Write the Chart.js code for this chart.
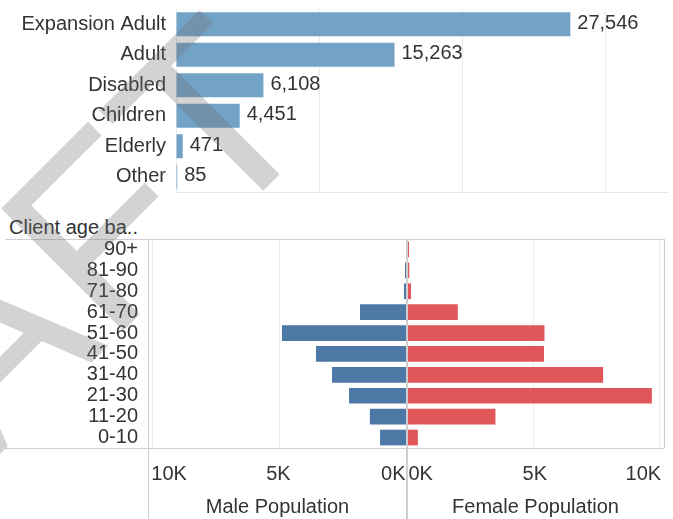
<!DOCTYPE html>
<html>
<head>
<meta charset="utf-8">
<script src="https://cdn.jsdelivr.net/npm/chart.js@4.4.1/dist/chart.umd.min.js"></script>
<style>
html,body{margin:0;padding:0;background:#fff;}
#wrap{position:relative;width:673px;height:519px;overflow:hidden;font-family:"Liberation Sans",Arial,sans-serif;}
canvas{position:absolute;}
#hdr{position:absolute;left:9px;top:215px;font-size:20px;line-height:24px;color:#333;white-space:nowrap;}
</style>
</head>
<body>
<div id="wrap">
  <canvas id="topChart" width="673" height="200" style="left:0;top:0;width:673px;height:200px"></canvas>
  <div id="hdr">Client age ba..</div>
  <canvas id="femaleChart" width="266" height="319" style="left:407px;top:200px;width:266px;height:319px"></canvas>
  <canvas id="maleChart" width="408" height="319" style="left:0;top:200px;width:408px;height:319px"></canvas>
  <canvas id="wm" width="673" height="519" style="left:0;top:0;width:673px;height:519px;pointer-events:none"></canvas>
</div>
<script>
// ---- data ----
const programs = ['Expansion Adult', 'Adult', 'Disabled', 'Children', 'Elderly', 'Other'];
const enrollment = [27546, 15263, 6108, 4451, 471, 85];
const topTicks = [0, 10000, 20000, 30000];

const ageBands = ['90+', '81-90', '71-80', '61-70', '51-60', '41-50', '31-40', '21-30', '11-20', '0-10'];
const malePop = [25, 80, 120, 1850, 4920, 3580, 2950, 2280, 1460, 1060];
const femalePop = [80, 90, 160, 2010, 5440, 5420, 7760, 9690, 3500, 430];
const popTicks = [0, 5000, 10000];

// ---- styling ----
const FONT = '"Liberation Sans", Arial, sans-serif';
const TXT = '#333333';
Chart.defaults.font.family = FONT;
Chart.defaults.font.size = 20;
Chart.defaults.color = TXT;

function noPad(s) { s.paddingTop = 0; s.paddingBottom = 0; s.paddingLeft = 0; s.paddingRight = 0; }

const valueLabels = {
  id: 'valueLabels',
  afterDatasetsDraw(chart) {
    const ctx = chart.ctx;
    const meta = chart.getDatasetMeta(0);
    ctx.save();
    ctx.font = '20px ' + FONT;
    ctx.fillStyle = TXT;
    ctx.textBaseline = 'middle';
    ctx.textAlign = 'left';
    meta.data.forEach((bar, i) => {
      ctx.fillText(enrollment[i].toLocaleString('en-US'), bar.x + 7, bar.y - 1);
    });
    ctx.restore();
  }
};

const maleFrame = {
  id: 'maleFrame',
  afterDraw(chart) {
    const ctx = chart.ctx, a = chart.chartArea, H = chart.height;
    ctx.save();
    ctx.strokeStyle = '#cfcfcf';
    ctx.lineWidth = 1;
    ctx.beginPath();
    ctx.moveTo(5, a.top + 0.5); ctx.lineTo(a.right, a.top + 0.5);
    ctx.moveTo(5, a.bottom + 0.5); ctx.lineTo(a.right, a.bottom + 0.5);
    ctx.moveTo(a.left + 0.5, a.top); ctx.lineTo(a.left + 0.5, H);
    ctx.stroke();
    ctx.lineWidth = 2;
    ctx.beginPath();
    ctx.moveTo(a.right, a.top); ctx.lineTo(a.right, H);
    ctx.stroke();
    ctx.restore();
  }
};

const femaleFrame = {
  id: 'femaleFrame',
  afterDraw(chart) {
    const ctx = chart.ctx, a = chart.chartArea;
    ctx.save();
    ctx.strokeStyle = '#cfcfcf';
    ctx.lineWidth = 1;
    ctx.beginPath();
    ctx.moveTo(0, a.top + 0.5); ctx.lineTo(a.right, a.top + 0.5);
    ctx.moveTo(0, a.bottom + 0.5); ctx.lineTo(a.right, a.bottom + 0.5);
    ctx.moveTo(a.right + 0.5, a.top); ctx.lineTo(a.right + 0.5, a.bottom);
    ctx.stroke();
    ctx.restore();
  }
};

// ---- top chart ----
new Chart(document.getElementById('topChart'), {
  type: 'bar',
  data: {
    labels: programs,
    datasets: [{ data: enrollment, backgroundColor: '#73a2c7', barPercentage: 0.785, categoryPercentage: 1 }]
  },
  options: {
    indexAxis: 'y', responsive: false, animation: false,
    layout: { padding: { top: 9, bottom: 8, left: 0, right: 6 } },
    plugins: { legend: { display: false }, tooltip: { enabled: false } },
    scales: {
      x: {
        min: 0, max: 34300,
        afterBuildTicks: s => { s.ticks = topTicks.map(v => ({ value: v })); },
        ticks: { display: false },
        grid: { color: '#ebebeb', drawTicks: false },
        border: { display: true, color: '#e6e6e6' },
        afterFit: s => { s.height = 0; noPad(s); }
      },
      y: {
        ticks: { padding: 10, color: TXT, font: { size: 20 }, autoSkip: false },
        grid: { display: false, drawTicks: false },
        border: { display: false },
        afterFit: s => { s.width = 176; noPad(s); }
      }
    }
  },
  plugins: [valueLabels]
});

function popOptions(isMale, maxVal, padRight) {
  return {
    indexAxis: 'y', responsive: false, animation: false,
    layout: { padding: { top: 39, bottom: 0, left: 0, right: padRight } },
    plugins: { legend: { display: false }, tooltip: { enabled: false } },
    scales: {
      x: {
        reverse: isMale, min: 0, max: maxVal,
        afterBuildTicks: s => { s.ticks = popTicks.map(v => ({ value: v })); },
        ticks: { align: 'inner', padding: 14, autoSkip: false, maxRotation: 0, color: TXT, font: { size: 20 },
                 labelOffset: isMale ? -1.5 : 1.5,
                 callback: v => (v / 1000) + 'K' },
        grid: { drawTicks: false, color: c => (c.tick && c.tick.value === 0) ? 'rgba(0,0,0,0)' : '#ececec' },
        border: { display: false },
        title: { display: true, text: isMale ? 'Male Population' : 'Female Population', color: TXT,
                 font: { size: 20 }, padding: { top: 0, bottom: 0 } },
        afterFit: s => { s.height = 71; noPad(s); }
      },
      y: {
        display: isMale,
        ticks: { padding: 10, color: TXT, font: { size: 20 }, autoSkip: false },
        grid: { display: false, drawTicks: false },
        border: { display: false },
        afterFit: s => { s.width = isMale ? 148 : 0; noPad(s); }
      }
    }
  };
}

new Chart(document.getElementById('femaleChart'), {
  type: 'bar',
  data: { labels: ageBands, datasets: [{ data: femalePop, backgroundColor: '#e15759', barPercentage: 0.75, categoryPercentage: 1 }] },
  options: popOptions(false, 10170, 9),
  plugins: [femaleFrame]
});

new Chart(document.getElementById('maleChart'), {
  type: 'bar',
  data: { labels: ageBands, datasets: [{ data: malePop, backgroundColor: '#4e79a7', barPercentage: 0.75, categoryPercentage: 1 }] },
  options: popOptions(true, 10190, 1),
  plugins: [maleFrame]
});

// ---- DRAFT watermark ----
(function () {
  const c = document.getElementById('wm').getContext('2d');
  c.save();
  c.translate(-266, 720);
  c.rotate(-Math.PI / 4);
  c.font = '251px ' + FONT;
  c.fillStyle = 'rgba(110,110,110,0.30)';
  c.textBaseline = 'alphabetic';
  c.textAlign = 'left';
  c.fillText('DRAFT', 0, 0);
  c.restore();
})();
</script>
</body>
</html>
